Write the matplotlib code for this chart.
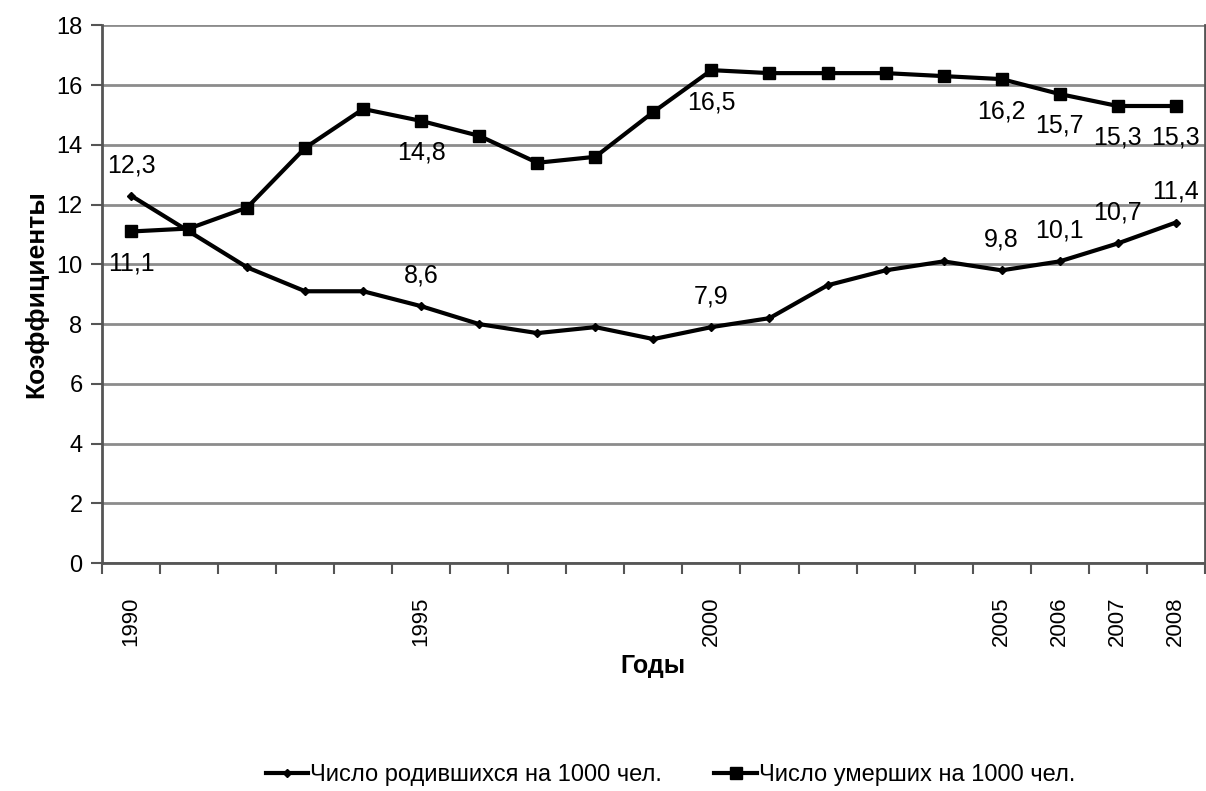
import numpy as np
import matplotlib.pyplot as plt

plt.rcParams['font.family'] = ['Liberation Sans', 'DejaVu Sans']

years = list(range(1990, 2009))
births = [12.3, 11.1, 9.9, 9.1, 9.1, 8.6, 8.0, 7.7, 7.9, 7.5,
          7.9, 8.2, 9.3, 9.8, 10.1, 9.8, 10.1, 10.7, 11.4]
deaths = [11.1, 11.2, 11.9, 13.9, 15.2, 14.8, 14.3, 13.4, 13.6, 15.1,
          16.5, 16.4, 16.4, 16.4, 16.3, 16.2, 15.7, 15.3, 15.3]
shown_years = [1990, 1995, 2000, 2005, 2006, 2007, 2008]
labelled = [1990, 1995, 2000, 2005, 2006, 2007, 2008]

x = np.arange(len(years))

fig = plt.figure(figsize=(12.06, 7.91), dpi=100)
ax = fig.add_axes([0.0846, 0.288, 0.9144, 0.680])

ax.plot(x, births, color='black', lw=3, marker='D', ms=4,
        label='Число родившихся на 1000 чел.')
ax.plot(x, deaths, color='black', lw=3, marker='s', ms=8,
        label='Число умерших на 1000 чел.')

# value labels: births above the line, deaths below
for yr in labelled:
    i = years.index(yr)
    ax.annotate(f'{births[i]:.1f}'.replace('.', ','), (x[i], births[i]),
                xytext=(0, 22), textcoords='offset points',
                ha='center', va='center', fontsize=18)
    ax.annotate(f'{deaths[i]:.1f}'.replace('.', ','), (x[i], deaths[i]),
                xytext=(0, -23), textcoords='offset points',
                ha='center', va='center', fontsize=18)

ax.set_xlim(-0.5, len(years) - 0.5)
ax.set_ylim(0, 18)
ax.set_yticks(np.arange(0, 19, 2))
ax.yaxis.grid(True, color='#8c8c8c', lw=2)
ax.set_axisbelow(True)

ax.set_xticks([years.index(y) for y in shown_years])
ax.set_xticklabels([str(y) for y in shown_years], rotation=90)
ax.set_xticks(np.arange(-0.5, len(years), 1), minor=True)
ax.tick_params(axis='x', which='major', length=0, pad=24, labelsize=16)
ax.tick_params(axis='x', which='minor', length=8, width=1.5, color='#555555')
ax.tick_params(axis='y', length=8, width=1.5, color='#555555', labelsize=17, pad=6)

for side in ['left', 'bottom', 'right']:
    ax.spines[side].set_color('#555555')
    ax.spines[side].set_linewidth(2)
ax.spines['top'].set_visible(False)

ax.set_xlabel('Годы', fontsize=18, fontweight='bold', labelpad=6)
ax.set_ylabel('Коэффициенты', fontsize=19, fontweight='bold', labelpad=6)

fig.legend(loc='center', bbox_to_anchor=(0.556, 0.02), ncol=2,
           frameon=False, fontsize=17, handlelength=1.8, handletextpad=0.1,
           columnspacing=2.2)

fig.savefig('out.png', dpi=100)
